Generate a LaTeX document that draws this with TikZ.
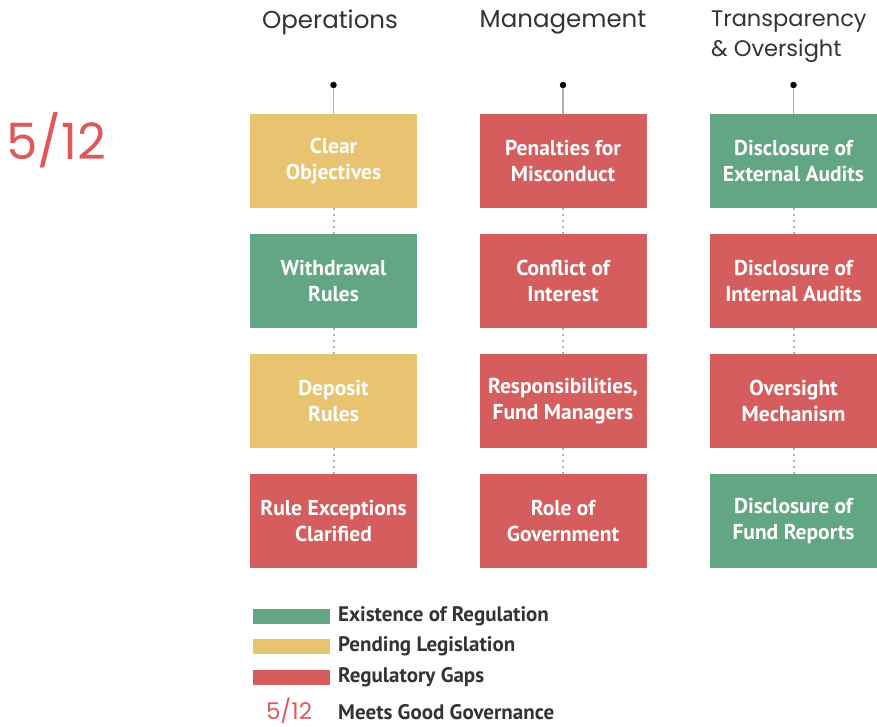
\documentclass[tikz,border=0pt]{standalone}
\usepackage{fontspec}
\setmainfont{Poppins}
\newfontfamily\boxfont{PT Sans}
\newfontfamily\headfont{Poppins}
\usetikzlibrary{positioning}
\definecolor{regok}{HTML}{62A683}
\definecolor{regpend}{HTML}{E8C470}
\definecolor{reggap}{HTML}{D65D5E}
\definecolor{scorered}{HTML}{E0585A}
\definecolor{inkgray}{HTML}{333333}
\definecolor{linegray}{HTML}{B0B0B0}
\tikzset{
  item/.style={minimum width=167pt, minimum height=94pt, inner sep=0pt,
    text=white, align=center, font=\boxfont\bfseries\fontsize{21.5}{26}\selectfont},
  ok/.style={item, fill=regok},
  pend/.style={item, fill=regpend},
  gap/.style={item, fill=reggap},
  head/.style={text=inkgray, font=\headfont\fontsize{24.5}{30}\selectfont, inner sep=0pt},
  stem/.style={draw=linegray, line width=1.5pt},
  link/.style={draw=linegray, line width=2pt, dash pattern=on 2pt off 4pt},
  pin/.style={circle, fill=black, inner sep=0pt, minimum size=6.5pt},
  swatch/.style={minimum width=77pt, minimum height=15pt, inner sep=0pt},
  legtext/.style={anchor=west, text=inkgray, inner sep=0pt, font=\boxfont\bfseries\fontsize{21}{24}\selectfont},
}
\begin{document}
\begin{tikzpicture}[x=1pt,y=-1pt]
\useasboundingbox (0,0) rectangle (877,727);

% column headings
\node[head] (h1) at (330,22) {Operations};
\node[head] (h2) at (563,22) {Management};
\node[head, font=\headfont\fontsize{22.5}{30}\selectfont, align=left, anchor=north west] (h3) at (711,11) {Transparency\\\& Oversight};

% overall score
\node[text=scorered, font=\headfont\fontsize{50}{56}\selectfont, inner sep=0pt] (score) at (56,140) {5/12};

% column 1: operations
\node[pend] (a1) at (333.5,161) {Clear\\Objectives};
\node[ok]   (a2) at (333.5,281) {Withdrawal\\Rules};
\node[pend] (a3) at (333.5,401) {Deposit\\Rules};
\node[gap]  (a4) at (333.5,521) {Rule Exceptions\\Clarified};

% column 2: management
\node[gap] (b1) at (563,161) {Penalties for\\Misconduct};
\node[gap] (b2) at (563,281) {Conflict of\\Interest};
\node[gap] (b3) at (563,401) {Responsibilities,\\Fund Managers};
\node[gap] (b4) at (563,521) {Role of\\Government};

% column 3: transparency & oversight
\node[ok]  (c1) at (793.5,161) {Disclosure of\\External Audits};
\node[gap] (c2) at (793.5,281) {Disclosure of\\Internal Audits};
\node[gap] (c3) at (793.5,401) {Oversight\\Mechanism};
\node[ok]  (c4) at (793.5,521) {Disclosure of\\Fund Reports};

% pins and stems
\foreach \col/\x in {a/333.5,b/563,c/793.5}{
  \node[pin] (\col0) at (\x,85) {};
  \draw[stem] (\col0) -- (\col1.north);
  \draw[link] (\col1.south) -- (\col2.north);
  \draw[link] (\col2.south) -- (\col3.north);
  \draw[link] (\col3.south) -- (\col4.north);
}

% legend
\node[swatch, fill=regok]   (k1) at (291.5,616) {};
\node[swatch, fill=regpend] (k2) at (291.5,646) {};
\node[swatch, fill=reggap]  (k3) at (291.5,677) {};
\node[legtext] (t1) at (338,616) {Existence of Regulation};
\node[legtext] (t2) at (338,646) {Pending Legislation};
\node[legtext] (t3) at (338,677) {Regulatory Gaps};
\node[text=scorered, font=\headfont\fontsize{23}{28}\selectfont, inner sep=0pt] (k4) at (289,711) {5/12};
\node[legtext] (t4) at (338,712) {Meets Good Governance};
\end{tikzpicture}
\end{document}
